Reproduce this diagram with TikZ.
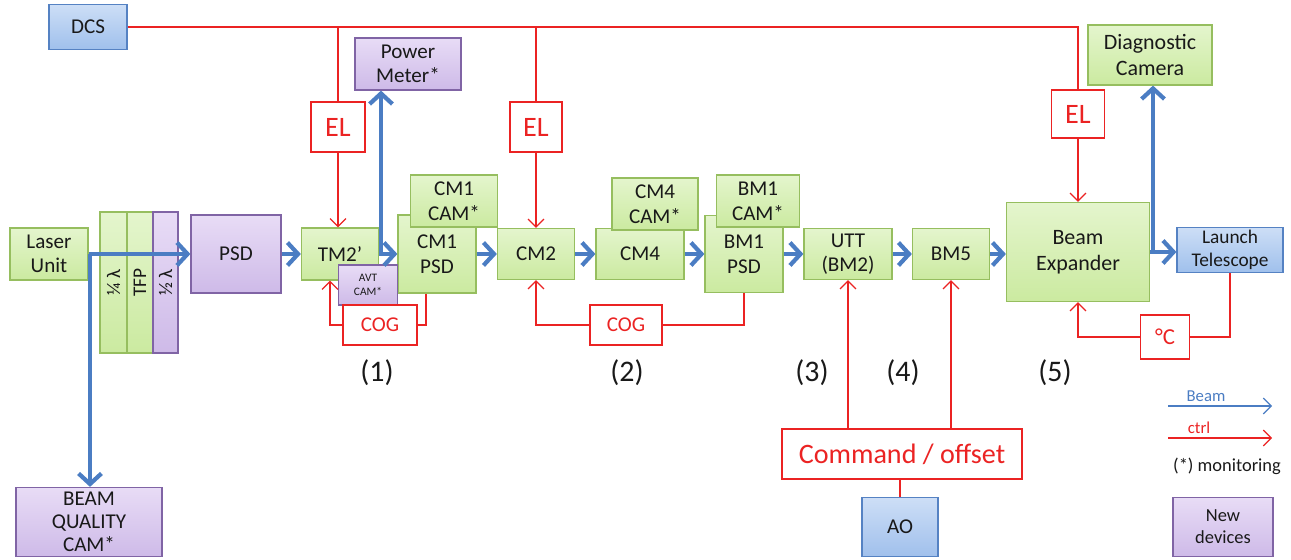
\documentclass[tikz,border=0pt]{standalone}
\usepackage{fontspec}
\setmainfont{Carlito}
\usetikzlibrary{arrows.meta,calc}
\definecolor{grntop}{RGB}{228,245,205}
\definecolor{grnbot}{RGB}{203,234,160}
\definecolor{grnline}{RGB}{150,190,95}
\definecolor{purtop}{RGB}{232,220,246}
\definecolor{purbot}{RGB}{206,186,232}
\definecolor{purline}{RGB}{128,100,165}
\definecolor{blutop}{RGB}{205,222,246}
\definecolor{blubot}{RGB}{160,192,236}
\definecolor{bluline}{RGB}{85,130,195}
\definecolor{ctrlred}{RGB}{235,35,35}
\definecolor{beamblue}{RGB}{75,125,195}
\definecolor{txt}{RGB}{25,25,25}
\tikzset{
  dev/.style={draw=grnline,top color=grntop,bottom color=grnbot,line width=0.7pt,inner sep=0pt,
    align=center,text=txt,font=\fontsize{12}{14}\selectfont},
  newdev/.style={dev,draw=purline,top color=purtop,bottom color=purbot},
  sysdev/.style={dev,draw=bluline,top color=blutop,bottom color=blubot},
  ctrlbox/.style={draw=ctrlred,fill=white,line width=0.7pt,inner sep=0pt,align=center,text=ctrlred,
    font=\fontsize{12}{14}\selectfont},
  bigtext/.style={font=\fontsize{16}{19}\selectfont},
  stage/.style={text=txt,font=\fontsize{17}{20}\selectfont},
  beam/.style={draw=beamblue,line width=2.4pt,-{Straight Barb[length=6pt,width=13pt]}},
  ctrl/.style={draw=ctrlred,line width=0.7pt},
  ctrlarr/.style={ctrl,-{Straight Barb[length=4.5pt,width=9pt]}},
  legbeam/.style={draw=beamblue,line width=0.7pt,-{Straight Barb[length=4.5pt,width=9pt]}}
}
\begin{document}
\begin{tikzpicture}[x=0.02cm,y=-0.02cm]
\useasboundingbox (0,0) rectangle (1291,560);
\node[sysdev,minimum width=1.56cm,minimum height=0.9cm] (dcs) at (88,27) {DCS};
\node[newdev,minimum width=2.12cm,minimum height=1.04cm] (pm) at (408,64) {Power\\Meter*};
\node[ctrlbox,bigtext,minimum width=1.08cm,minimum height=1cm] (el1) at (338,127) {EL};
\node[ctrlbox,bigtext,minimum width=1.04cm,minimum height=1cm] (el2) at (536,127) {EL};
\node[ctrlbox,bigtext,minimum width=1.06cm,minimum height=0.96cm] (el3) at (1078,114) {EL};
\node[dev,font=\fontsize{12.5}{14.5}\selectfont,minimum width=2.48cm,minimum height=1.2cm] (dc) at (1150,55) {Diagnostic\\Camera};
\node[dev,minimum width=1.56cm,minimum height=1.04cm] (laser) at (49,254) {Laser\\Unit};
\node[dev,rotate=90,font=\fontsize{11}{13}\selectfont,minimum width=2.82cm,minimum height=0.54cm] (qwp) at (113.5,282.5) {¼ λ};
\node[dev,rotate=90,font=\fontsize{11}{13}\selectfont,minimum width=2.82cm,minimum height=0.52cm] (tfp) at (140,282.5) {TFP};
\node[newdev,rotate=90,font=\fontsize{11}{13}\selectfont,minimum width=2.82cm,minimum height=0.5cm] (hwp) at (165.5,282.5) {½ λ};
\node[newdev,minimum width=1.8cm,minimum height=1.56cm] (psd) at (236,254) {PSD};
\node[dev,minimum width=1.54cm,minimum height=1.04cm] (tm2) at (340,254) {TM2’};
\node[dev,minimum width=1.56cm,minimum height=1.56cm] (cm1psd) at (437,254) {CM1\\PSD};
\node[newdev,font=\fontsize{6.5}{8}\selectfont,minimum width=1.18cm,minimum height=0.8cm] (avt) at (368,285) {AVT\\CAM*};
\node[dev,minimum width=1.74cm,minimum height=1.04cm] (cm1cam) at (454,201) {CM1\\CAM*};
\node[dev,minimum width=1.54cm,minimum height=1.02cm] (cm2) at (536,254) {CM2};
\node[dev,minimum width=1.76cm,minimum height=1.02cm] (cm4) at (640,254) {CM4};
\node[dev,minimum width=1.72cm,minimum height=1.04cm] (cm4cam) at (655,204) {CM4\\CAM*};
\node[dev,minimum width=1.56cm,minimum height=1.54cm] (bm1psd) at (744,254) {BM1\\PSD};
\node[dev,minimum width=1.66cm,minimum height=1.04cm] (bm1cam) at (758,201) {BM1\\CAM*};
\node[dev,minimum width=1.76cm,minimum height=1.02cm] (utt) at (848,254) {UTT\\(BM2)};
\node[dev,minimum width=1.54cm,minimum height=1.02cm] (bm5) at (951,254) {BM5};
\node[dev,font=\fontsize{12.5}{15}\selectfont,minimum width=2.86cm,minimum height=1.98cm] (be) at (1078,252) {Beam\\Expander};
\node[sysdev,font=\fontsize{11}{13}\selectfont,minimum width=2.12cm,minimum height=0.9cm] (lt) at (1230,250) {Launch\\Telescope};
\node[ctrlbox,font=\fontsize{13}{15}\selectfont,minimum width=0.98cm,minimum height=0.88cm] (degc) at (1165,337) {°C};
\node[ctrlbox,minimum width=1.48cm,minimum height=0.8cm] (cog1) at (380,325) {COG};
\node[ctrlbox,minimum width=1.44cm,minimum height=0.8cm] (cog2) at (626,325) {COG};
\node[ctrlbox,bigtext,minimum width=4.8cm,minimum height=1cm] (cmd) at (902,454) {Command / offset};
\node[sysdev,minimum width=1.52cm,minimum height=1.18cm] (ao) at (900,527) {AO};
\node[newdev,font=\fontsize{10.5}{12.5}\selectfont,minimum width=2cm,minimum height=1.18cm] (newd) at (1223,527) {New\\devices};
\node[newdev,font=\fontsize{12}{13}\selectfont,minimum width=2.92cm,minimum height=1.38cm] (bqc) at (89,522) {BEAM\\QUALITY\\CAM*};
\foreach \n/\x in {1/377,2/627,3/812,4/903,5/1055}
  \node[stage] (st\n) at (\x,373) {(\n)};
\draw[ctrl] (dcs.east) -| (el3.north);
\draw[ctrl] (el1 |- dcs.east) -- (el1.north);
\draw[ctrl] (el2 |- dcs.east) -- (el2.north);
\draw[ctrlarr] (el1.south) -- (el1.south |- tm2.north);
\draw[ctrlarr] (el2.south) -- (cm2.north);
\draw[ctrlarr] (el3.south) -- (be.north);
\draw[ctrl] ($(cm1psd.south)+(-11,0)$) |- (cog1.east);
\draw[ctrlarr] (cog1.west) -| ($(tm2.south)+(-10,0)$);
\draw[ctrl] (bm1psd.south) |- (cog2.east);
\draw[ctrlarr] (cog2.west) -| (cm2.south);
\draw[ctrl] (lt.south) |- (degc.east);
\draw[ctrlarr] (degc.west) -| (be.south);
\draw[ctrlarr] (utt.south |- cmd.north) -- (utt.south);
\draw[ctrlarr] (bm5.south |- cmd.north) -- (bm5.south);
\draw[ctrl] (ao.north) -- (ao.north |- cmd.south);
\coordinate (bqtap) at (90,254);
\coordinate (pmtap) at (381,254);
\coordinate (dctap) at (1153,252);
\draw[beam] (laser.east) -- (psd.west);
\draw[beam] (bqtap) -- (bqtap |- bqc.north);
\draw[beam] (psd.east) -- (tm2.west);
\draw[beam] (tm2.east) -- (cm1psd.west);
\draw[beam] (pmtap) -- (pmtap |- pm.south);
\draw[beam] (cm1psd.east) -- (cm2.west);
\draw[beam] (cm2.east) -- (cm4.west);
\draw[beam] (cm4.east) -- (bm1psd.west);
\draw[beam] (bm1psd.east) -- (utt.west);
\draw[beam] (utt.east) -- (bm5.west);
\draw[beam] (bm5.east) -- (bm5.east -| be.west);
\draw[beam] (be.east) -- (be.east -| lt.west);
\draw[beam] (dctap) -- (dctap |- dc.south);
\coordinate (lgb1) at (1168,406);
\coordinate (lgb2) at (1272,406);
\coordinate (lgc1) at (1168,438);
\coordinate (lgc2) at (1272,438);
\draw[legbeam] (lgb1) -- (lgb2);
\draw[ctrlarr] (lgc1) -- (lgc2);
\node[anchor=base,text=beamblue,font=\fontsize{9.5}{11}\selectfont] (lgbt) at (1206,401) {Beam};
\node[anchor=base,text=ctrlred,font=\fontsize{9.5}{11}\selectfont] (lgct) at (1199,433) {ctrl};
\node[text=txt,font=\fontsize{10.5}{12}\selectfont] (mon) at (1227,466) {(*) monitoring};
\end{tikzpicture}
\end{document}
